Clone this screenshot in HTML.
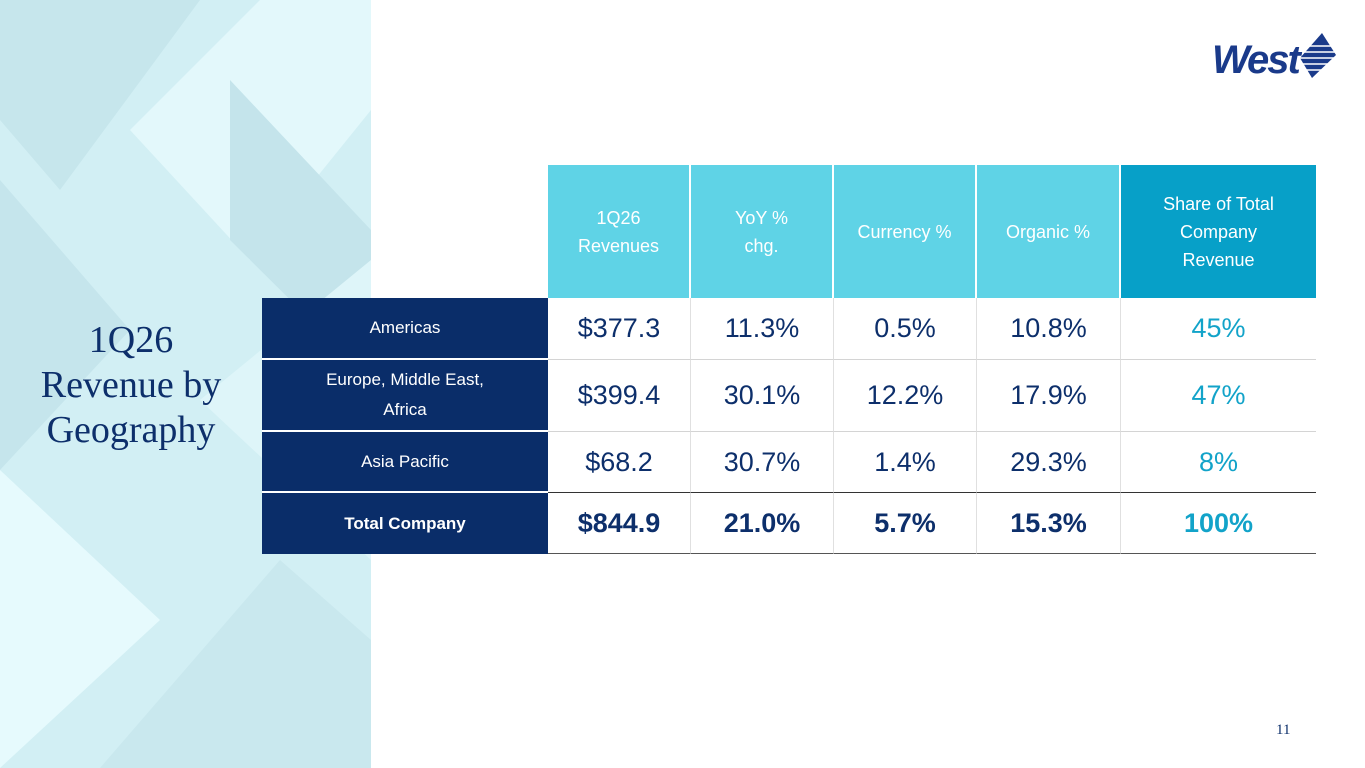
<!DOCTYPE html>
<html><head><meta charset="utf-8"><style>
body{margin:0;width:1365px;height:768px;position:relative;overflow:hidden;background:#fff;font-family:"Liberation Sans",sans-serif}
.left{position:absolute;left:0;top:0;width:371px;height:768px;background:#d2eff4;overflow:hidden}
.title{position:absolute;left:0;width:262px;top:318px;text-align:center;font-family:"Liberation Serif",serif;color:#0d2f6b;font-size:38px;line-height:45px}
.c{position:absolute;display:flex;align-items:center;justify-content:center;text-align:center;box-sizing:border-box}
.h{background:#5fd3e6;color:#fff;font-size:18px;line-height:28px;border-right:2px solid #fff}
.lab{background:#0a2d69;color:#fff;font-size:17px;line-height:30px;border-bottom:2px solid #fff}
.d{color:#0d2f6b;font-size:27px;border-right:1px solid #e0e0e0;border-bottom:1px solid #d4d4d4}
.s{color:#12a3c9}
.b{font-weight:bold}
</style></head><body>
<div class="left">
<svg width="371" height="768" style="position:absolute;left:0;top:0">
<polygon points="0,0 200,0 60,190 0,120" fill="#c6e6ec"/>
<polygon points="130,130 260,0 371,0 371,110 250,260" fill="#e3f8fb"/>
<polygon points="0,180 130,330 0,470" fill="#c5e5ec"/>
<polygon points="230,80 371,230 371,380 230,240" fill="#c4e4eb"/>
<polygon points="0,470 160,620 0,768" fill="#e6fafd"/>
<polygon points="100,768 280,560 371,640 371,768" fill="#c9e8ee"/>
<polygon points="200,400 371,260 371,560" fill="#def5f9"/>
</svg>
<div class="title">1Q26<br>Revenue by<br>Geography</div>
</div>
<svg style="position:absolute;left:1212px;top:30px" width="125" height="52">
<text x="0" y="43" font-family="Liberation Sans" font-weight="bold" font-style="italic" font-size="40" fill="#1a3a8a" letter-spacing="-2">West</text>
<polygon points="110,3 124,25 100,48 88,28" fill="#1a3a8a"/>
<g stroke="#fff" stroke-width="1.5"><line x1="96" y1="16" x2="122" y2="16"/><line x1="92" y1="22" x2="124" y2="22"/><line x1="88" y1="28" x2="124" y2="28"/><line x1="90" y1="34" x2="118" y2="34"/><line x1="94" y1="40" x2="112" y2="40"/></g>
</svg>
<div class="c h" style="left:548px;top:165px;width:143px;height:133px">1Q26<br>Revenues</div>
<div class="c h" style="left:691px;top:165px;width:143px;height:133px">YoY %<br>chg.</div>
<div class="c h" style="left:834px;top:165px;width:143px;height:133px">Currency %</div>
<div class="c h" style="left:977px;top:165px;width:144px;height:133px">Organic %</div>
<div class="c h" style="left:1121px;top:165px;width:195px;height:133px;background:#07a0c8;border:none">Share of Total<br>Company<br>Revenue</div>

<div class="c lab" style="left:262px;top:298px;width:286px;height:62px">Americas</div>
<div class="c lab" style="left:262px;top:360px;width:286px;height:72px">Europe, Middle East,<br>Africa</div>
<div class="c lab" style="left:262px;top:432px;width:286px;height:61px">Asia Pacific</div>
<div class="c lab b" style="left:262px;top:493px;width:286px;height:61px;border:none">Total Company</div>

<div class="c d" style="left:548px;top:298px;width:143px;height:62px">$377.3</div>
<div class="c d" style="left:691px;top:298px;width:143px;height:62px">11.3%</div>
<div class="c d" style="left:834px;top:298px;width:143px;height:62px">0.5%</div>
<div class="c d" style="left:977px;top:298px;width:144px;height:62px">10.8%</div>
<div class="c d s" style="left:1121px;top:298px;width:195px;height:62px;border-right:none">45%</div>

<div class="c d" style="left:548px;top:360px;width:143px;height:72px">$399.4</div>
<div class="c d" style="left:691px;top:360px;width:143px;height:72px">30.1%</div>
<div class="c d" style="left:834px;top:360px;width:143px;height:72px">12.2%</div>
<div class="c d" style="left:977px;top:360px;width:144px;height:72px">17.9%</div>
<div class="c d s" style="left:1121px;top:360px;width:195px;height:72px;border-right:none">47%</div>

<div class="c d" style="left:548px;top:432px;width:143px;height:61px;border-bottom:1px solid #333">$68.2</div>
<div class="c d" style="left:691px;top:432px;width:143px;height:61px;border-bottom:1px solid #333">30.7%</div>
<div class="c d" style="left:834px;top:432px;width:143px;height:61px;border-bottom:1px solid #333">1.4%</div>
<div class="c d" style="left:977px;top:432px;width:144px;height:61px;border-bottom:1px solid #333">29.3%</div>
<div class="c d s" style="left:1121px;top:432px;width:195px;height:61px;border-right:none;border-bottom:1px solid #333">8%</div>

<div class="c d b" style="left:548px;top:493px;width:143px;height:61px;border-bottom:1px solid #555">$844.9</div>
<div class="c d b" style="left:691px;top:493px;width:143px;height:61px;border-bottom:1px solid #555">21.0%</div>
<div class="c d b" style="left:834px;top:493px;width:143px;height:61px;border-bottom:1px solid #555">5.7%</div>
<div class="c d b" style="left:977px;top:493px;width:144px;height:61px;border-bottom:1px solid #555">15.3%</div>
<div class="c d s b" style="left:1121px;top:493px;width:195px;height:61px;border-right:none;border-bottom:1px solid #555">100%</div>

<div style="position:absolute;left:1276px;top:722px;font-family:'Liberation Serif',serif;font-size:15px;color:#0d2f6b">11</div>
</body></html>
